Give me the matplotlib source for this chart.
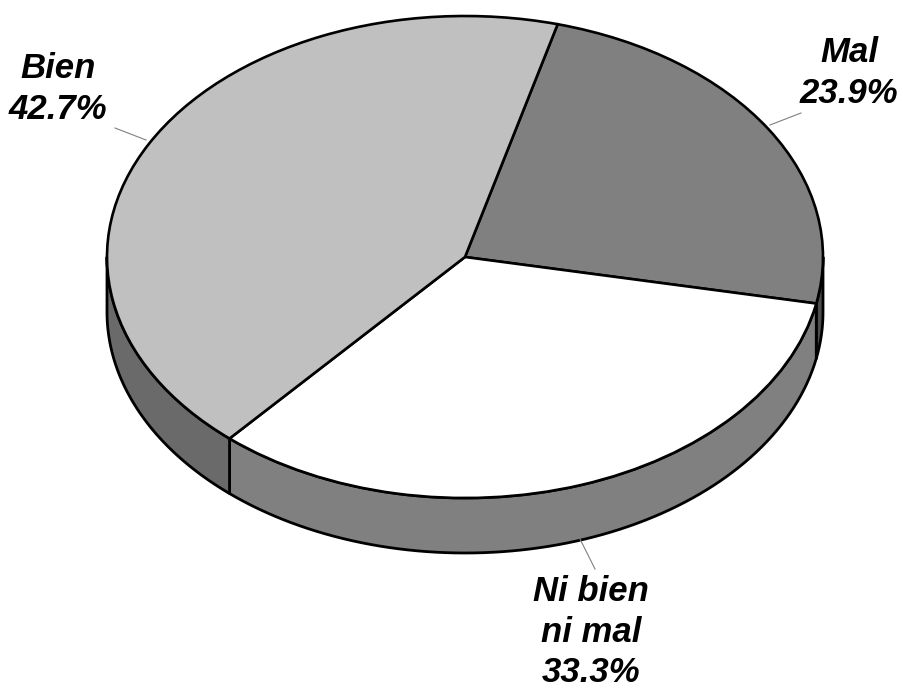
import numpy as np
import matplotlib
matplotlib.use('Agg')
import matplotlib.pyplot as plt
from matplotlib.patches import Polygon

labels = ['Mal', 'Ni bien\nni mal', 'Bien']
values = [23.9, 33.3, 42.7]
top_colors = ['#808080', '#ffffff', '#c0c0c0']
side_colors = ['#4d4d4d', '#808080', '#6a6a6a']

# where the ellipse sits in the 904x690 picture
CX, CY = 465, 257
RX, RY = 358, 241
DEPTH = 55 / RY
START = 75

def px(x, y):
    return (x - CX) / RX, (CY - y) / RY

fig = plt.figure(figsize=(9.04, 6.9), dpi=100)
ax = fig.add_axes([0, 0, 1, 1])

# side wall first, the pie goes on top
shares = np.array(values) / sum(values) * 360
ends = START - np.cumsum(shares)
starts = ends + shares
for a, b, c in zip(starts, ends, side_colors):
    # only the front half of the rim can be seen
    lo, hi = max(b, -180), min(a, 0)
    if hi <= lo:
        continue
    t = np.radians(np.linspace(hi, lo, 80))
    upper = np.column_stack([np.cos(t), np.sin(t)])
    lower = upper[::-1] - [0, DEPTH]
    ax.add_patch(Polygon(np.vstack([upper, lower]), closed=True, facecolor=c,
                         edgecolor='black', linewidth=2, joinstyle='round'))

ax.pie(values, colors=top_colors, startangle=START, counterclock=False,
       wedgeprops={'edgecolor': 'black', 'linewidth': 1.9})

ax.set_aspect('auto')
ax.set_xlim(-CX / RX, (904 - CX) / RX)
ax.set_ylim((CY - 690) / RY, CY / RY)
ax.axis('off')

# leader lines
leaders = [((770, 125), (801, 113)), ((580, 539), (595, 569)), ((146, 140), (115, 128))]
for p0, p1 in leaders:
    x0, y0 = px(*p0)
    x1, y1 = px(*p1)
    ax.plot([x0, x1], [y0, y1], color='#808080', lw=0.8)

label_pos = [(849, 73), (591, 632), (58, 89)]
for name, val, pos in zip(labels, values, label_pos):
    x, y = px(*pos)
    ax.text(x, y, f'{name}\n{val}%', ha='center', va='center', family='Liberation Sans',
            fontsize=25, fontweight='bold', fontstyle='italic', linespacing=1.28)

fig.savefig('out.png', dpi=100, facecolor='white')
